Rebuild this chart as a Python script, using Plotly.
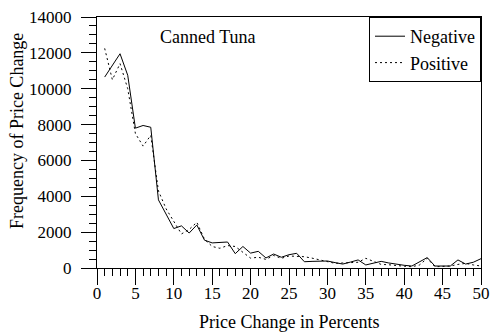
import plotly.graph_objects as go

# Price change in percents (1..50)
pct = list(range(1, 51))

# Frequency of negative price changes
negative = [10650, 11300, 11950, 10750, 7800, 7950, 7850, 3800, 3000, 2200,
            2350, 1950, 2400, 1550, 1400, 1420, 1450, 800, 1200, 830,
            930, 560, 780, 600, 740, 820, 350, 370, 380, 390,
            300, 220, 330, 450, 170, 260, 370, 280, 200, 150,
            110, 340, 580, 110, 110, 110, 450, 220, 320, 520]

# Frequency of positive price changes
positive = [12250, 10500, 11400, 10000, 7500, 6800, 7400, 4300, 3300, 2600,
            1900, 2150, 2550, 1600, 1200, 1100, 1250, 1200, 850, 550,
            600, 480, 700, 540, 670, 650, 630, 550, 450, 380,
            260, 280, 290, 320, 540, 350, 200, 180, 160, 100,
            70, 170, 540, 70, 90, 110, 200, 260, 170, 110]

FONT = "Liberation Serif"

fig = go.Figure()
fig.add_trace(go.Scatter(x=pct, y=negative, mode="lines", name="Negative",
                         line=dict(color="black", width=1)))
fig.add_trace(go.Scatter(x=pct, y=positive, mode="lines", name="Positive",
                         line=dict(color="black", width=1, dash="2px,3px")))

fig.update_layout(
    template="none",
    width=493, height=334,
    margin=dict(l=97, r=12, t=17, b=66, autoexpand=False),
    paper_bgcolor="white", plot_bgcolor="white",
    font=dict(family=FONT, size=17, color="black"),
    showlegend=True,
    legend=dict(x=1, y=1, xanchor="right", yanchor="top",
                bordercolor="black", borderwidth=1, bgcolor="white",
                font=dict(size=18), itemwidth=30, tracegroupgap=0),
    xaxis=dict(range=[0, 50], dtick=5, tick0=0, showgrid=False, zeroline=False,
               automargin=False, ticklabelstandoff=-6,
               showline=True, linecolor="black", linewidth=1, mirror=True,
               ticks="outside", ticklen=16, tickcolor="black", tickwidth=1,
               minor=dict(dtick=1, ticks="outside", ticklen=7,
                          tickcolor="black", tickwidth=1, showgrid=False),
               tickfont=dict(size=17)),
    yaxis=dict(range=[0, 14000], dtick=2000, tick0=0, showgrid=False, zeroline=False,
               automargin=False, tickformat="d",
               showline=True, linecolor="black", linewidth=1, mirror=True,
               ticks="outside", ticklen=15, tickcolor="black", tickwidth=1,
               minor=dict(dtick=500, ticks="outside", ticklen=7,
                          tickcolor="black", tickwidth=1, showgrid=False),
               tickfont=dict(size=17), ticklabelstandoff=6),
    annotations=[
        dict(text="Canned Tuna", xref="paper", yref="paper", x=0.289, y=0.92,
             xanchor="center", yanchor="middle", showarrow=False,
             font=dict(size=18)),
        dict(text="Price Change in Percents", xref="paper", yref="paper",
             x=0.5, y=-0.215, xanchor="center", yanchor="middle",
             showarrow=False, font=dict(size=18)),
        dict(text="Frequency of Price Change", xref="paper", yref="paper",
             x=-0.208, y=0.546, xanchor="center", yanchor="middle",
             textangle=-90, showarrow=False, font=dict(size=18)),
    ],
)

fig.write_html("out.html")
